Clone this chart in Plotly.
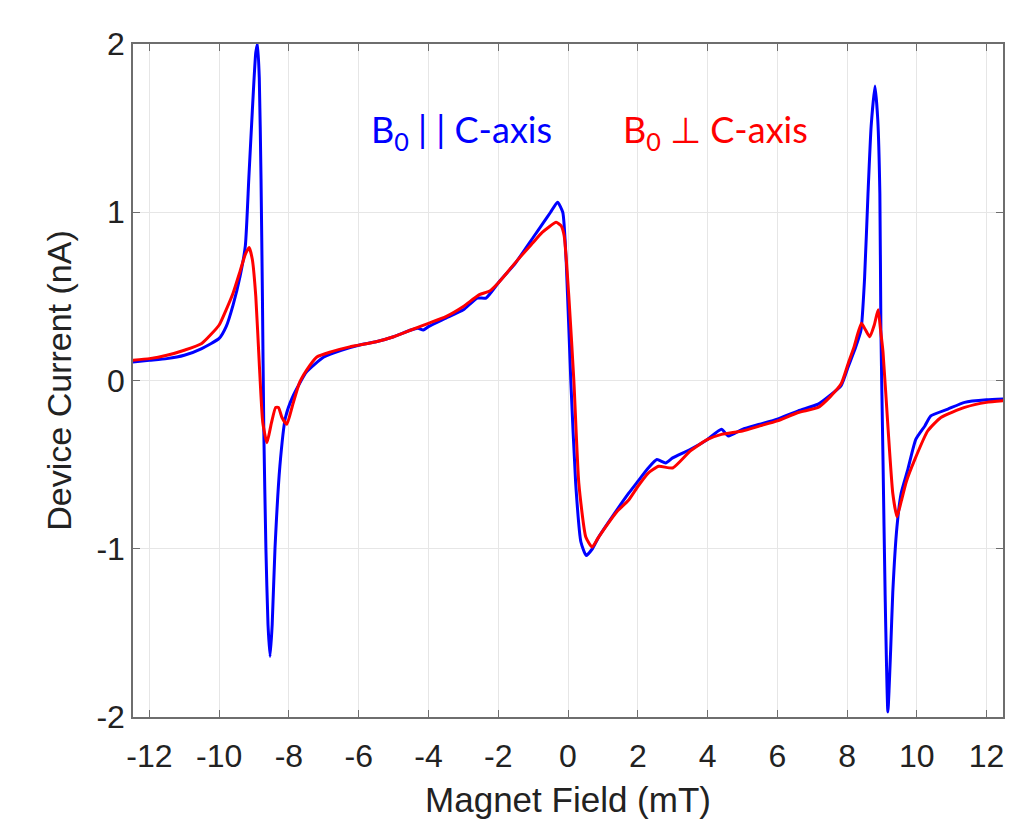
import plotly.graph_objects as go

# Blue: B0 || C-axis
x_par = [-12.5, -12.0, -11.5, -11.0, -10.5, -10.0, -9.8, -9.6, -9.4, -9.25, -9.15, -9.05, -8.95, -8.9,
         -8.85, -8.8, -8.76, -8.72, -8.66, -8.6, -8.54, -8.48, -8.4, -8.26, -8.1, -7.9, -7.5, -7.0,
         -6.5, -6.0, -5.5, -5.0, -4.5, -4.3, -4.15, -4.0, -3.5, -3.0, -2.6, -2.35, -2.0, -1.5, -1.0,
         -0.7, -0.5, -0.3, -0.15, -0.05, 0.08, 0.22, 0.37, 0.52, 0.7, 0.88, 1.3, 1.74, 2.0, 2.3,
         2.55, 2.8, 3.0, 3.5, 4.0, 4.4, 4.6, 5.0, 5.5, 6.0, 6.6, 7.17, 7.5, 7.83, 8.03, 8.25, 8.4,
         8.5, 8.6, 8.69, 8.8, 8.88, 8.94, 8.97, 9.03, 9.09, 9.17, 9.25, 9.31, 9.43, 9.55, 9.74, 9.97,
         10.23, 10.4, 10.89, 11.37, 12.0, 12.5]
y_par = [0.11, 0.12, 0.13, 0.15, 0.19, 0.25, 0.32, 0.45, 0.62, 0.80, 1.2, 1.6, 1.95, 2.0,
         1.8, 1.2, 0.5, -0.3, -1.0, -1.45, -1.64, -1.45, -1.0, -0.51, -0.22, -0.1, 0.05, 0.14,
         0.18, 0.21, 0.23, 0.26, 0.30, 0.31, 0.30, 0.32, 0.37, 0.42, 0.49, 0.49, 0.58, 0.70, 0.85,
         0.94, 1.0, 1.06, 1.0, 0.7, 0.0, -0.61, -0.96, -1.04, -1.0, -0.93, -0.8, -0.67, -0.6, -0.52,
         -0.47, -0.49, -0.46, -0.41, -0.35, -0.29, -0.33, -0.29, -0.26, -0.23, -0.18, -0.14, -0.09, -0.03, 0.08, 0.2, 0.3,
         0.6, 1.11, 1.51, 1.75, 1.55, 1.11, 0.3, -0.47, -1.26, -1.97, -1.6, -1.26, -0.87, -0.67, -0.53, -0.35,
         -0.27, -0.21, -0.17, -0.13, -0.115, -0.11]

# Red: B0 perpendicular to C-axis
x_perp = [-12.5, -12.0, -11.5, -11.0, -10.5, -10.0, -9.8, -9.6, -9.4, -9.25, -9.14, -9.05, -8.95, -8.85,
          -8.75, -8.63, -8.5, -8.38, -8.3, -8.2, -8.06, -7.9, -7.69, -7.4, -7.2, -6.8, -6.26, -5.5,
          -5.0, -4.5, -4.0, -3.5, -3.0, -2.54, -2.26, -2.0, -1.43, -1.0, -0.74, -0.34, -0.2, -0.11,
          0.03, 0.17, 0.31, 0.51, 0.69, 0.85, 1.08, 1.4, 1.74, 2.0, 2.3, 2.6, 3.0, 3.5, 4.0, 4.4,
          5.0, 5.5, 6.0, 6.6, 7.17, 7.5, 7.83, 8.03, 8.2, 8.41, 8.53, 8.65, 8.78, 8.89, 8.96, 9.03,
          9.17, 9.31, 9.43, 9.55, 9.7, 9.94, 10.31, 10.69, 11.37, 12.0, 12.5]
y_perp = [0.12, 0.13, 0.15, 0.18, 0.22, 0.33, 0.42, 0.52, 0.65, 0.75, 0.79, 0.72, 0.5, 0.1,
          -0.25, -0.37, -0.25, -0.16, -0.16, -0.22, -0.26, -0.15, -0.01, 0.09, 0.14, 0.17, 0.2, 0.23,
          0.26, 0.30, 0.34, 0.38, 0.44, 0.51, 0.53, 0.58, 0.72, 0.82, 0.88, 0.94, 0.92, 0.86,
          0.48, -0.01, -0.61, -0.93, -0.99, -0.94, -0.87, -0.78, -0.71, -0.63, -0.55, -0.51, -0.52, -0.42, -0.35, -0.32,
          -0.30, -0.27, -0.24, -0.19, -0.16, -0.1, -0.02, 0.1, 0.2, 0.34, 0.30, 0.26, 0.33, 0.42, 0.3, 0.17,
          -0.27, -0.67, -0.81, -0.72, -0.6, -0.47, -0.3, -0.22, -0.16, -0.13, -0.12]

x_ticks = list(range(-12, 13, 2))
y_ticks = [-2, -1, 0, 1, 2]

fig = go.Figure()
fig.add_trace(go.Scatter(x=x_par, y=y_par, mode="lines",
                         line=dict(color="#0000ff", width=3, shape="spline", smoothing=0.5),
                         showlegend=False))
fig.add_trace(go.Scatter(x=x_perp, y=y_perp, mode="lines",
                         line=dict(color="#ff0000", width=3, shape="spline", smoothing=0.5),
                         showlegend=False))

txt_color = "#222222"
axis_common = dict(showline=True, mirror="ticks", linecolor="#6e6e6e", linewidth=1.5,
                   ticks="inside", ticklen=7, tickcolor="#6e6e6e", tickwidth=1,
                   showgrid=True, gridcolor="#e6e6e6", gridwidth=1, zeroline=False,
                   tickfont=dict(family="Liberation Sans, Arial", size=32, color=txt_color))

fig.update_xaxes(range=[-12.47, 12.47], tickvals=x_ticks, ticktext=[str(v) for v in x_ticks],
                 ticklabelstandoff=10,
                 title=dict(text="Magnet Field (mT)", font=dict(family="Liberation Sans, Arial", size=35, color=txt_color),
                            standoff=14),
                 **axis_common)
fig.update_yaxes(range=[-2, 2], tickvals=y_ticks, ticktext=[str(v) for v in y_ticks],
                 title=dict(text="Device Current (nA)", font=dict(family="Liberation Sans, Arial", size=34, color=txt_color),
                            standoff=14),
                 **axis_common)

fig.add_annotation(x=-3.06, y=1.48, xref="x", yref="y", showarrow=False,
                   text="B<sub>0</sub> | | C-axis", font=dict(family="Lato, Open Sans", size=36, color="#0000ff"))
fig.add_annotation(x=4.23, y=1.48, xref="x", yref="y", showarrow=False,
                   text="B<sub>0</sub> ⊥ C-axis", font=dict(family="Lato, Open Sans", size=36, color="#ff0000"))

fig.update_layout(width=1013, height=830, margin=dict(l=133, r=8, t=44, b=113),
                  paper_bgcolor="white", plot_bgcolor="white")

fig.write_html("out.html")
